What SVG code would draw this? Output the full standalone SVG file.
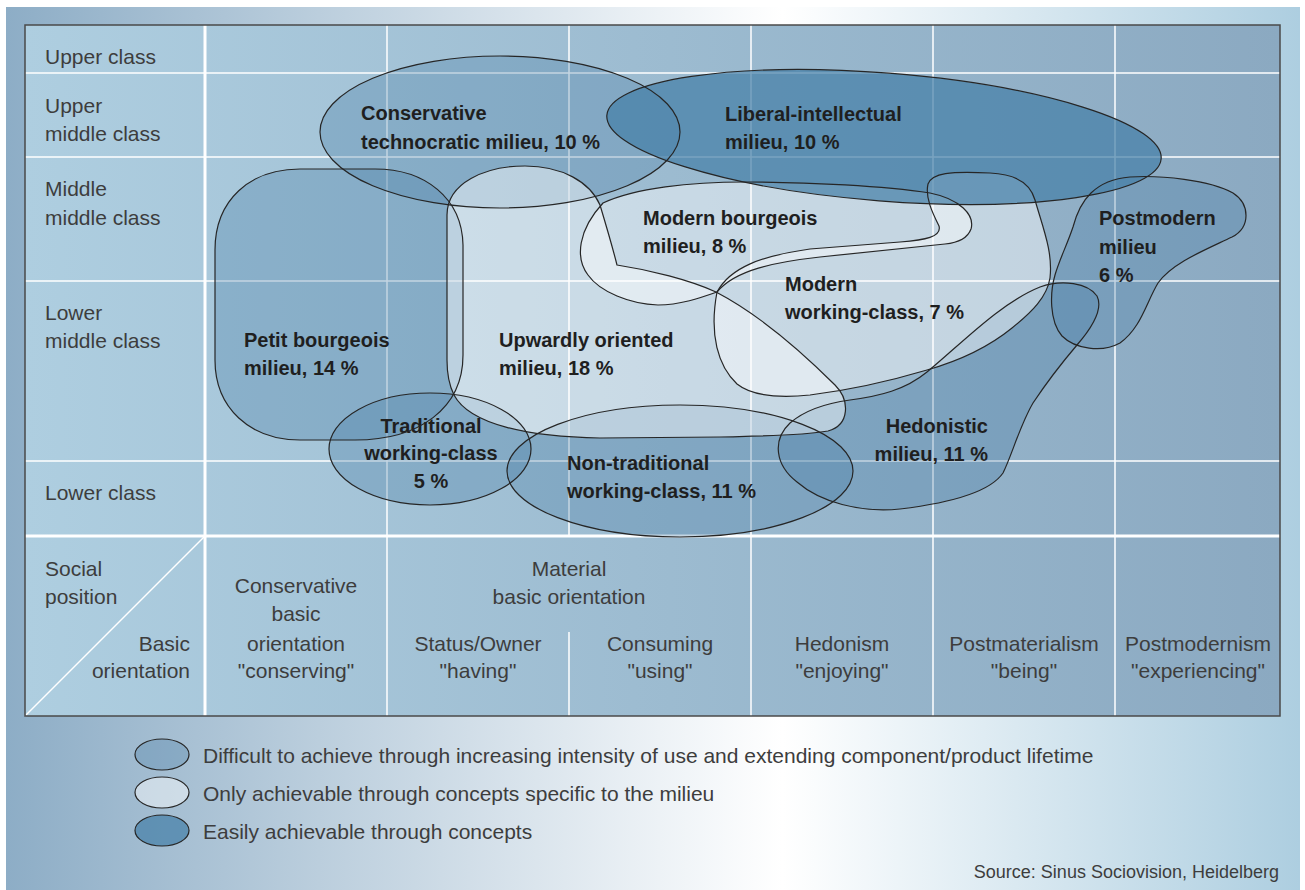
<svg xmlns="http://www.w3.org/2000/svg" width="1305" height="890" viewBox="0 0 1305 890">
<style>
.med{fill:#4d80a6;fill-opacity:.33}
.lig{fill:#ffffff;fill-opacity:.45}
.drk{fill:#4580a8;fill-opacity:.72}
.ol{fill:none;stroke:#262626;stroke-width:1.2}
.grid{stroke:#ffffff;stroke-width:1.5;fill:none}
.gridb{stroke:#ffffff;stroke-width:3;fill:none}
.t{font-family:'Liberation Sans',Arial,sans-serif;font-size:21px;fill:#3d3d3d}
.b{font-family:'Liberation Sans',Arial,sans-serif;font-size:20px;font-weight:bold;fill:#1f1f1f}
.s{font-family:'Liberation Sans',Arial,sans-serif;font-size:18px;fill:#3d3d3d}
.c{text-anchor:middle}
.r{text-anchor:end}
</style>
<defs>
<linearGradient id="outerGrad" x1="6" y1="0" x2="1300" y2="0" gradientUnits="userSpaceOnUse">
<stop offset="0" stop-color="#8dadc6"/>
<stop offset="0.6" stop-color="#ffffff"/>
<stop offset="1" stop-color="#adcee0"/>
</linearGradient>
<linearGradient id="panelGrad" x1="25" y1="0" x2="1280" y2="0" gradientUnits="userSpaceOnUse">
<stop offset="0" stop-color="#aecee0"/>
<stop offset="1" stop-color="#8ba9c1"/>
</linearGradient>
<path id="s-petit" d="M300,169 L375,169 C425,169 462,198 463,245 L463,355 C463,408 420,440 355,440 L300,440 C250,440 215,408 215,360 L215,250 C215,200 250,169 300,169 Z"/>
<ellipse id="s-cons" cx="500" cy="132" rx="180" ry="76"/>
<ellipse id="s-nontrad" cx="680" cy="471" rx="173" ry="66"/>
<ellipse id="s-trad" cx="430" cy="449" rx="101" ry="56"/>
<path id="s-hed" d="M790,423 C805,410 828,403 850,400 C880,396 905,390 927,372 C960,345 1000,303 1040,287 C1062,279 1088,283 1097,296 C1104,310 1090,330 1077,345 C1060,365 1045,385 1033,403 C1020,425 1012,455 1003,473 C990,492 950,503 900,509 C860,513 820,502 797,482 C775,465 772,440 790,423 Z"/>
<path id="s-post" d="M1073,227 C1080,200 1095,180 1130,177 C1160,175 1210,180 1233,193 C1250,204 1251,227 1232,237 C1205,250 1172,263 1158,283 C1146,303 1141,328 1120,343 C1102,353 1075,349 1062,336 C1049,321 1050,292 1055,275 C1060,258 1067,245 1073,227 Z"/>
<path id="s-up" d="M447,360 L447,215 C447,183 485,166 525,166 C562,166 590,182 600,205 C606,225 612,245 617,265 C650,270 690,280 716,292 C760,315 805,355 835,385 C850,400 850,425 828,431 C800,436 760,436 720,437 L600,438 C530,437 470,425 454,395 C449,385 447,372 447,360 Z"/>
<path id="s-mb" d="M603,203 C635,188 690,182 745,182 C810,182 885,186 930,193 C960,199 975,215 971,229 C967,240 955,243 945,244 L820,257 C775,262 735,270 717,292 C700,298 680,305 658,305 C630,304 600,292 588,275 C575,258 578,230 603,203 Z"/>
<path id="s-mwc" d="M717,292 C730,268 760,256 810,249 L900,242 C925,240 942,237 939,226 C932,212 925,197 928,184 C932,173 950,171 990,173 C1015,174 1030,182 1035,200 C1043,228 1053,252 1050,278 C1047,297 1032,312 1012,328 C985,350 955,362 927,370 C890,381 850,390 810,395 C780,398 752,396 737,384 C718,366 709,335 717,292 Z"/>
<ellipse id="s-lib" cx="884" cy="137" rx="278" ry="64" transform="rotate(4.5 884 137)"/>
</defs>

<g id="background">
<rect x="0" y="0" width="1305" height="890" fill="#ffffff"/>
<rect x="6" y="7" width="1294" height="883" fill="url(#outerGrad)"/>
<rect x="25" y="25" width="1255" height="691" fill="url(#panelGrad)"/>
</g>

<g id="grid">
<line class="grid" x1="25" y1="73" x2="1280" y2="73"/>
<line class="grid" x1="25" y1="157" x2="1280" y2="157"/>
<line class="grid" x1="25" y1="281" x2="1280" y2="281"/>
<line class="grid" x1="25" y1="461" x2="1280" y2="461"/>
<line class="grid" x1="387" y1="25" x2="387" y2="716"/>
<line class="grid" x1="569" y1="25" x2="569" y2="536"/>
<line class="grid" x1="569" y1="632" x2="569" y2="716"/>
<line class="grid" x1="751" y1="25" x2="751" y2="716"/>
<line class="grid" x1="933" y1="25" x2="933" y2="716"/>
<line class="grid" x1="1115" y1="25" x2="1115" y2="716"/>
<line class="grid" x1="25" y1="716" x2="205" y2="536" stroke-width="1"/>
<line class="gridb" x1="25" y1="536" x2="1280" y2="536"/>
<line class="gridb" x1="205" y1="25" x2="205" y2="716"/>
<rect x="25" y="25" width="1255" height="691" fill="none" stroke="#4a4a4a" stroke-width="1.5"/>
</g>

<g id="axis-labels">
<text class="t" x="45" y="64">Upper class</text>
<text class="t" x="45" y="112.5">Upper</text>
<text class="t" x="45" y="140.5">middle class</text>
<text class="t" x="45" y="196">Middle</text>
<text class="t" x="45" y="224.5">middle class</text>
<text class="t" x="45" y="320">Lower</text>
<text class="t" x="45" y="348">middle class</text>
<text class="t" x="45" y="499.5">Lower class</text>
<text class="t" x="45" y="576">Social</text>
<text class="t" x="45" y="604">position</text>
<text class="t r" x="190" y="651">Basic</text>
<text class="t r" x="190" y="678">orientation</text>
<text class="t c" x="296" y="593">Conservative</text>
<text class="t c" x="296" y="621">basic</text>
<text class="t c" x="296" y="651">orientation</text>
<text class="t c" x="296" y="678">"conserving"</text>
<text class="t c" x="569" y="576">Material</text>
<text class="t c" x="569" y="604">basic orientation</text>
<text class="t c" x="478" y="651">Status/Owner</text>
<text class="t c" x="478" y="678">"having"</text>
<text class="t c" x="660" y="651">Consuming</text>
<text class="t c" x="660" y="678">"using"</text>
<text class="t c" x="842" y="651">Hedonism</text>
<text class="t c" x="842" y="678">"enjoying"</text>
<text class="t c" x="1024" y="651">Postmaterialism</text>
<text class="t c" x="1024" y="678">"being"</text>
<text class="t c" x="1198" y="651">Postmodernism</text>
<text class="t c" x="1198" y="678">"experiencing"</text>
</g>

<g id="node-petit-bourgeois">
<use href="#s-petit" class="med"/>
<text class="b" x="244" y="347">Petit bourgeois</text>
<text class="b" x="244" y="375">milieu, 14 %</text>
</g>
<g id="node-conservative-technocratic">
<use href="#s-cons" class="med"/>
<text class="b" x="361" y="120">Conservative</text>
<text class="b" x="361" y="149">technocratic milieu, 10 %</text>
</g>
<g id="node-non-traditional">
<use href="#s-nontrad" class="med"/>
<text class="b" x="567" y="470">Non-traditional</text>
<text class="b" x="567" y="498">working-class, 11 %</text>
</g>
<g id="node-traditional">
<use href="#s-trad" class="med"/>
<text class="b c" x="431" y="433">Traditional</text>
<text class="b c" x="431" y="460">working-class</text>
<text class="b c" x="431" y="488">5 %</text>
</g>
<g id="node-hedonistic">
<use href="#s-hed" class="med"/>
<text class="b r" x="988" y="433">Hedonistic</text>
<text class="b r" x="988" y="461">milieu, 11 %</text>
</g>
<g id="node-postmodern">
<use href="#s-post" class="med"/>
<text class="b" x="1099" y="225">Postmodern</text>
<text class="b" x="1099" y="254">milieu</text>
<text class="b" x="1099" y="282">6 %</text>
</g>
<g id="node-upwardly-oriented">
<use href="#s-up" class="lig"/>
<text class="b" x="499" y="347">Upwardly oriented</text>
<text class="b" x="499" y="375">milieu, 18 %</text>
</g>
<g id="node-modern-bourgeois">
<use href="#s-mb" class="lig"/>
<text class="b" x="643" y="225">Modern bourgeois</text>
<text class="b" x="643" y="253">milieu, 8 %</text>
</g>
<g id="node-modern-working-class">
<use href="#s-mwc" class="lig"/>
<text class="b" x="785" y="291">Modern</text>
<text class="b" x="785" y="319">working-class, 7 %</text>
</g>
<g id="node-liberal-intellectual">
<use href="#s-lib" class="drk"/>
<text class="b" x="725" y="121">Liberal-intellectual</text>
<text class="b" x="725" y="149">milieu, 10 %</text>
</g>

<g id="connectors">
<use href="#s-petit" class="ol"/>
<use href="#s-cons" class="ol"/>
<use href="#s-nontrad" class="ol"/>
<use href="#s-trad" class="ol"/>
<use href="#s-hed" class="ol"/>
<use href="#s-post" class="ol"/>
<use href="#s-up" class="ol"/>
<use href="#s-mb" class="ol"/>
<use href="#s-mwc" class="ol"/>
<use href="#s-lib" class="ol"/>
</g>

<g id="legend">
<ellipse cx="162" cy="754.5" rx="27" ry="15.5" class="med"/>
<ellipse cx="162" cy="754.5" rx="27" ry="15.5" class="ol"/>
<ellipse cx="162" cy="792.5" rx="27" ry="15.5" class="lig"/>
<ellipse cx="162" cy="792.5" rx="27" ry="15.5" class="ol"/>
<ellipse cx="162" cy="830.5" rx="27" ry="15.5" class="drk"/>
<ellipse cx="162" cy="830.5" rx="27" ry="15.5" class="ol"/>
<text class="t" x="203" y="763">Difficult to achieve through increasing intensity of use and extending component/product lifetime</text>
<text class="t" x="203" y="801">Only achievable through concepts specific to the milieu</text>
<text class="t" x="203" y="839">Easily achievable through concepts</text>
<text class="s r" x="1279" y="878">Source: Sinus Sociovision, Heidelberg</text>
</g>
</svg>
